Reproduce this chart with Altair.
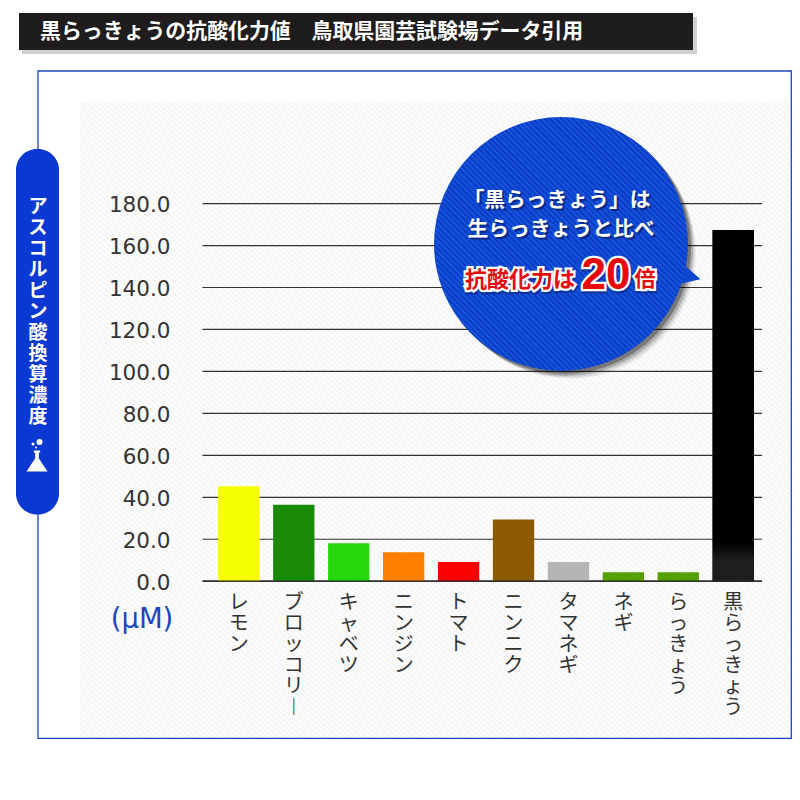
import altair as alt
import pandas as pd

categories = ["レモン", "ブロッコリー", "キャベツ", "ニンジン", "トマト", "ニンニク", "タマネギ", "ネギ", "らっきょう", "黒らっきょう"]
values = [45.3, 36.4, 18.1, 13.8, 9.1, 29.4, 9.1, 4.3, 4.3, 167.4]
colors = ["#f6ff00", "#198a06", "#25d80c", "#ff7f00", "#fb0000", "#8c5a00", "#b5b5b5", "#559f00", "#559f00", "#000000"]
ticks = [0, 20, 40, 60, 80, 100, 120, 140, 160, 180]
title_text = "黒らっきょうの抗酸化力値　鳥取県園芸試験場データ引用"
side_text = list("アスコルピン酸換算濃度")
unit_text = "(µM)"
bubble_1 = "「黒らっきょう」は"
bubble_2 = "生らっきょうと比べ"
bubble_3 = "抗酸化力は"
bubble_4 = "20"
bubble_5 = "倍"

W, H = 784, 770
JP = "Noto Sans CJK JP"
BLUE = "#0a38d2"


def P(v):
    return v - 8


one = alt.Data(values=[{"a": 0}])


def box(x0, x1, y0, y1, **kw):
    return alt.Chart(one).mark_rect(**kw).encode(
        x=alt.value(P(x0)), x2=alt.value(P(x1)), y=alt.value(P(y0)), y2=alt.value(P(y1)))


def label(txt, x, y, **kw):
    kw.setdefault("font", JP)
    return alt.Chart(one).mark_text(text=txt, **kw).encode(x=alt.value(P(x)), y=alt.value(P(y)))


def dot(x, y, d, shape="circle", **kw):
    return alt.Chart(one).mark_point(shape=shape, size=d * d, filled=True, **kw).encode(
        x=alt.value(P(x)), y=alt.value(P(y)))


def stripes(c1, c2, n):
    stops = []
    for i in range(n):
        a, b = i / n, (i + 0.5) / n
        c = (i + 1) / n
        stops += [alt.GradientStop(color=c1, offset=a), alt.GradientStop(color=c1, offset=b),
                  alt.GradientStop(color=c2, offset=b), alt.GradientStop(color=c2, offset=c)]
    return alt.Gradient(gradient="linear", x1=0, y1=1, x2=1, y2=0, stops=stops)


y_scale = alt.Scale(domain=[0, 180], range=[P(581.2), P(203.6)], nice=False, zero=False)
x_scale = alt.Scale(domain=categories, range=[P(211.4), P(760.7)], paddingInner=0, paddingOuter=0)

df = pd.DataFrame({"name": categories, "value": values, "color": colors})
tick_df = pd.DataFrame({"tick": ticks})

layers = [
    box(22, 697, 17, 54, fill="#b0b0b0", opacity=0.6),
    box(19, 693, 13, 50, fill="#1e1c1c"),
    box(80, 790, 101, 738, fill=stripes("#fdfdfd", "#f6f6f6", 240)),
    box(38, 791.3, 71, 738.3, fill="transparent", stroke="#1a47c0", strokeWidth=1.3),
    box(16, 59, 149, 514.5, fill=BLUE, cornerRadius=21),
    label(title_text, 40, 32, fontSize=20.9, fontWeight="bold", fill="#ffffff", align="left", baseline="middle"),
    label(side_text, 38, 207, fontSize=19, fontWeight="bold", fill="#ffffff", align="center", baseline="middle", lineHeight=21),
    dot(37, 461, 21, shape="M-0.3 -1 L0.3 -1 L0.3 -0.8 L0.18 -0.8 L0.18 -0.25 L1 1 L-1 1 L-0.18 -0.25 L-0.18 -0.8 L-0.3 -0.8 Z", fill="#ffffff", opacity=1),
    dot(39.5, 442, 6, fill="#ffffff", opacity=1),
    dot(33, 444, 3, fill="#ffffff", opacity=1),
    dot(36, 447.5, 2, fill="#ffffff", opacity=1),
    label(unit_text, 142, 620, font="DejaVu Sans", fontSize=27.5, fill="#1a47c0", align="center", baseline="middle"),
]

layers.append(
    alt.Chart(tick_df).mark_rule(color="#333333", strokeWidth=1.2).encode(
        x=alt.value(P(202.5)), x2=alt.value(P(762)),
        y=alt.Y("tick:Q", scale=y_scale, axis=alt.Axis(
            offset=-P(170), title=None, domain=False, ticks=False, grid=False, zindex=1,
            values=ticks, format=".1f", labelFont="DejaVu Sans", labelFontSize=21.5,
            labelColor="#333333", labelPadding=0, labelOffset=2)),
    )
)

layers.append(
    alt.Chart(df).mark_bar(size=41.3).encode(
        x=alt.X("name:N", sort=categories, scale=x_scale, axis=alt.Axis(
            orient="bottom", offset=P(581) - H, title=None, domain=False, ticks=False, grid=False, zindex=1,
            labelAngle=0, labelFont=JP, labelFontSize=20, labelColor="#333333",
            labelExpr="split(replace(datum.label,'ー','︱'),'')", labelLineHeight=21,
            labelPadding=11, labelBaseline="top", labelAlign="center", labelOverlap=False)),
        y=alt.Y("value:Q", scale=y_scale),
        y2=alt.value(P(581.2)),
        color=alt.Color("name:N", sort=categories, scale=alt.Scale(domain=categories, range=colors), legend=None),
    )
)
layers.append(
    alt.Chart(df).transform_filter(alt.datum.name == categories[-1]).mark_bar(
        size=41.3,
        fill=alt.Gradient(gradient="linear", x1=0, y1=0, x2=0, y2=1, stops=[
            alt.GradientStop(color="#000000", offset=0.89),
            alt.GradientStop(color="#1e1e1e", offset=0.94),
            alt.GradientStop(color="#1e1e1e", offset=1),
        ])).encode(
        x=alt.X("name:N", sort=categories, scale=x_scale),
        y=alt.Y("value:Q", scale=y_scale),
        y2=alt.value(P(581.2)),
    )
)
layers.append(
    alt.Chart(tick_df).transform_filter(alt.datum.tick == 0).mark_rule(color="#222222", strokeWidth=1.3).encode(
        x=alt.value(P(202.5)), x2=alt.value(P(762)), y=alt.Y("tick:Q", scale=y_scale))
)

for off, d, op in [(9, 252, 0.06), (7, 253, 0.10), (5, 254, 0.18), (3, 254, 0.30)]:
    layers.append(dot(561 + off, 244 + off, d, fill="#000000", opacity=op))
tail = "M-0.75 -1 L1 0.55 L-1 1 Z"
layers.append(dot(691, 274, 19, shape=tail, fill="#1048cd", opacity=1))
layers.append(dot(561, 244, 254, fill=stripes("#0a3ec8", "#1652d8", 90), opacity=1))

for txt, x, y in [(bubble_1, 557, 201), (bubble_2, 561, 230)]:
    layers.append(label(txt, x + 2, y + 2, fontSize=20.8, fontWeight="bold", fill="#06206e", opacity=0.75, align="center", baseline="middle"))
    layers.append(label(txt, x, y, fontSize=20.8, fontWeight="bold", fill="#ffffff", align="center", baseline="middle"))

for txt, x, y, fs, fnt in [(bubble_3, 520, 280, 22, JP), (bubble_4, 606, 276, 44, "Liberation Sans"), (bubble_5, 645, 280, 21, JP)]:
    layers.append(label(txt, x + 1, y + 2, font=fnt, fontSize=fs, fontWeight="bold", fill="#06206e", stroke="#06206e", strokeWidth=5, opacity=0.5, align="center", baseline="middle"))
    layers.append(label(txt, x, y, font=fnt, fontSize=fs, fontWeight="bold", fill="#ffffff", stroke="#ffffff", strokeWidth=4.5, align="center", baseline="middle"))
    layers.append(label(txt, x, y, font=fnt, fontSize=fs, fontWeight="bold", fill="#e60b0b", align="center", baseline="middle"))

chart = alt.layer(*layers).resolve_scale(color="independent").properties(
    width=W, height=H, padding=0, autosize=alt.AutoSizeParams(type="none"), background="#ffffff",
).configure_view(stroke=None)

chart.save("out.html", embed_options={"renderer": "svg", "actions": False})
